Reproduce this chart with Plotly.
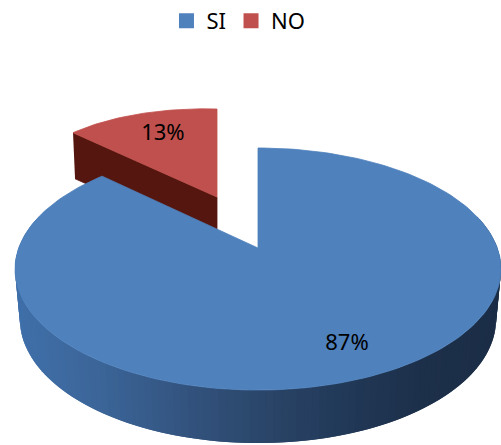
import math
import plotly.graph_objects as go

categories = ["SI", "NO"]
values = [87, 13]
top_colors = ["#4f81bd", "#c0504d"]

# projection of the blue disc (tilted circle with perspective)
CX, CY, RX, RY, K = 258.0, 248.0, 239.3, 117.4, 0.1736
DEPTH, DEPTH_V, BOTTOM_SCALE = 49.5, 3.5, 0.98
# projection of the pulled-out red slice
RED_APEX = (217.0, 197.0)
RED_A, RED_B, RED_SHEAR = 197.5, 88.0, 5.5
RED_DEPTH = 46.0

shares = [v / sum(values) * 2 * math.pi for v in values]
blue_end = shares[0]
red_start = blue_end - 2 * math.pi   # negative, runs up to 0


def project(theta, r=1.0):
    u, v = r * math.sin(theta), -r * math.cos(theta)
    d = 1 - K * v
    return CX + RX * u / d, CY + RY * v / d


def project_low(theta):
    v = -math.cos(theta)
    x, y = project(theta)
    return CX + (x - CX) * BOTTOM_SCALE, y + DEPTH + DEPTH_V * v


def project_red(theta, r=1.0):
    u, v = r * math.sin(theta), -r * math.cos(theta)
    return RED_APEX[0] + RED_A * u, RED_APEX[1] + RED_B * v + RED_SHEAR * u


def lerp_color(stops, t):
    for (t0, c0), (t1, c1) in zip(stops, stops[1:]):
        if t <= t1:
            f = max(0.0, (t - t0) / (t1 - t0))
            return "rgb(%d,%d,%d)" % tuple(
                round(a + (b - a) * f) for a, b in zip(c0, c1))
    return "rgb(%d,%d,%d)" % stops[-1][1]


side_stops = [(0, (64, 113, 172)), (90, (60, 102, 154)), (190, (50, 82, 124)),
              (280, (40, 66, 100)), (360, (32, 54, 84)), (420, (29, 48, 74)),
              (501, (27, 45, 70))]

fig = go.Figure()


def poly(xs, ys, color, name=None, lw=0.8):
    fig.add_trace(go.Scatter(x=xs, y=ys, mode="lines", fill="toself",
                             fillcolor=color, line=dict(color=color, width=lw),
                             hoverinfo="skip", showlegend=False, name=name))


# red slice: cut face, then top face
rx0, ry0 = project_red(red_start)
poly([rx0, RED_APEX[0], RED_APEX[0], rx0 + 2],
     [ry0, RED_APEX[1], RED_APEX[1] + RED_DEPTH, ry0 + RED_DEPTH],
     "#561610", "NO side")
n = 40
arc = [red_start + (0 - red_start) * i / n for i in range(n + 1)]
pts = [project_red(a) for a in arc]
poly([RED_APEX[0]] + [p[0] for p in pts] + [RED_APEX[0]],
     [RED_APEX[1]] + [p[1] for p in pts] + [RED_APEX[1]], top_colors[1], "NO")

# blue slice: rim strips with gradient (each overlaps the next), then top face
n = 200
angles = [blue_end * i / n for i in range(n + 1)]
for i in range(n):
    a0 = angles[i]
    a1 = angles[min(i + 2, n)]
    if -math.cos(a0) < -0.25 and -math.cos(a1) < -0.25:
        continue
    p0, p1 = project(a0), project(a1)
    q0, q1 = project_low(a0), project_low(a1)
    color = lerp_color(side_stops, (p0[0] + p1[0]) / 2)
    poly([p0[0], p1[0], q1[0], q0[0]], [p0[1], p1[1], q1[1], q0[1]], color, lw=0)
pts = [project(a) for a in angles]
poly([CX] + [p[0] for p in pts] + [CX], [CY] + [p[1] for p in pts] + [CY],
     top_colors[0], "SI")

# percentage labels
pct = [f"{round(v / sum(values) * 100)}%" for v in values]
lx0, ly0 = project(blue_end / 2, 0.815)
lx1, ly1 = project_red(red_start / 2, 0.69)
fig.add_trace(go.Scatter(x=[lx0, lx1], y=[ly0 - 4, ly1 - 5], mode="text", text=pct,
                         textposition="middle center",
                         textfont=dict(family="Noto Sans", size=22, color="#000000"),
                         hoverinfo="skip", showlegend=False))

# legend keys
for cat, col in zip(categories, top_colors):
    fig.add_trace(go.Scatter(x=[None], y=[None], mode="markers", name=cat,
                             marker=dict(symbol="square", size=15, color=col)))

fig.update_layout(
    width=501, height=445, autosize=False,
    margin=dict(l=0, r=0, t=0, b=0),
    paper_bgcolor="white", plot_bgcolor="white",
    xaxis=dict(range=[0, 501], visible=False, fixedrange=True),
    yaxis=dict(range=[445, 0], visible=False, fixedrange=True),
    legend=dict(orientation="h", x=0.476, xanchor="center", y=1.0, yanchor="top",
                font=dict(family="Noto Sans", size=22, color="#000000"),
                itemwidth=30, bgcolor="rgba(0,0,0,0)"),
)
fig.write_html("out.html", config={"displayModeBar": False},
               post_script="document.body.style.margin='0';document.documentElement.style.overflow='hidden';")
